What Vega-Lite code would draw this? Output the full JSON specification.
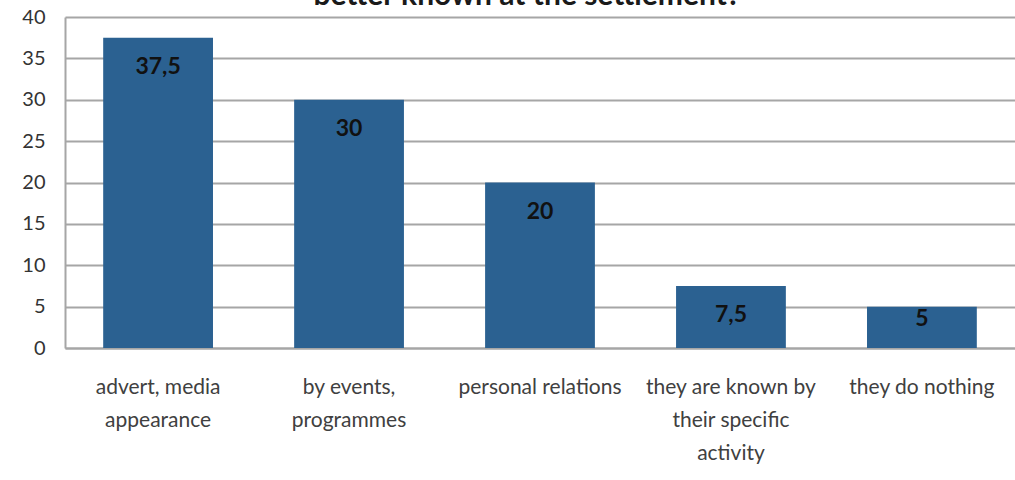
{
  "$schema": "https://vega.github.io/schema/vega-lite/v6.json",
  "width": 950,
  "height": 331,
  "autosize": {"type": "none"},
  "padding": {"left": 65, "top": 17, "right": 0, "bottom": 132},
  "background": "white",
  "title": {
    "text": "better known at the settlement?",
    "anchor": "middle",
    "dx": -13,
    "offset": -28,
    "baseline": "alphabetic",
    "font": "Lato",
    "fontSize": 30,
    "fontWeight": "bold",
    "color": "#1a1a1a"
  },
  "config": {
    "locale": {"number": {"decimal": ",", "thousands": ".", "grouping": [3], "currency": ["", ""]}},
    "view": {"stroke": null},
    "font": "Lato"
  },
  "data": {
    "values": [
      {"category": "advert, media appearance", "value": 37.5},
      {"category": "by events, programmes", "value": 30},
      {"category": "personal relations", "value": 20},
      {"category": "they are known by their specific activity", "value": 7.5},
      {"category": "they do nothing", "value": 5}
    ]
  },
  "encoding": {
    "x": {
      "field": "category",
      "type": "nominal",
      "sort": null,
      "scale": {"paddingInner": 0.425, "paddingOuter": 0.2},
      "axis": {
        "title": null,
        "labelAngle": 0,
        "labelExpr": "datum.value == 'advert, media appearance' ? ['advert, media', 'appearance'] : datum.value == 'by events, programmes' ? ['by events,', 'programmes'] : datum.value == 'they are known by their specific activity' ? ['they are known by', 'their specific', 'activity'] : datum.value",
        "labelFontSize": 21,
        "labelColor": "#404040",
        "labelLineHeight": 33,
        "labelPadding": 28,
        "labelBaseline": "top",
        "ticks": false,
        "domainColor": "#a6a6a6",
        "domainWidth": 2,
        "grid": false
      }
    },
    "y": {
      "field": "value",
      "type": "quantitative",
      "scale": {"domain": [0, 40], "nice": false},
      "axis": {
        "title": null,
        "values": [0, 5, 10, 15, 20, 25, 30, 35, 40],
        "labelFontSize": 20,
        "labelColor": "#333333",
        "labelPadding": 20,
        "ticks": false,
        "domainColor": "#a6a6a6",
        "domainWidth": 2,
        "gridColor": "#a6a6a6",
        "gridWidth": 2,
        "gridOpacity": 1
      }
    }
  },
  "layer": [
    {"mark": {"type": "bar", "color": "#2b6191"}},
    {
      "transform": [{"filter": "datum.value > 6"}],
      "mark": {"type": "text", "baseline": "middle", "dy": 29, "fontSize": 23, "fontWeight": "bold", "color": "#111111", "font": "Lato"},
      "encoding": {"text": {"field": "value", "type": "quantitative", "format": ".1~f"}}
    },
    {
      "transform": [{"filter": "datum.value <= 6"}],
      "mark": {"type": "text", "baseline": "middle", "dy": 12, "fontSize": 23, "fontWeight": "bold", "color": "#111111", "font": "Lato"},
      "encoding": {"text": {"field": "value", "type": "quantitative", "format": ".1~f"}}
    }
  ]
}
